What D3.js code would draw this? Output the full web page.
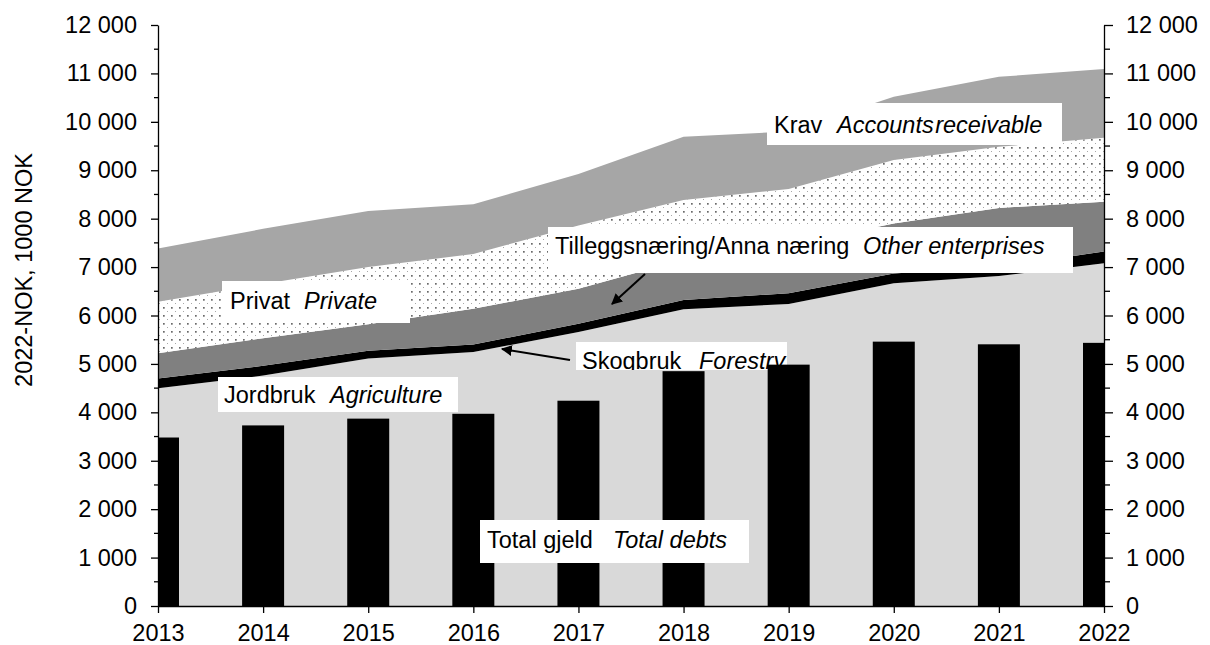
<!DOCTYPE html>
<html>
<head>
<meta charset="utf-8">
<script src="https://cdn.jsdelivr.net/npm/d3@7"></script>
<style>
    body { margin: 0; background: #fff; }
    svg { display: block; font-family: "Liberation Sans", Arial, sans-serif; }
</style>
</head>
<body>
<svg id="chart" width="1210" height="645"></svg>
<script>
// values (1000 NOK, 2022 money)
var years        = [2013, 2014, 2015, 2016, 2017, 2018, 2019, 2020, 2021, 2022];
var agriculture  = [4495, 4760, 5110, 5245, 5660, 6130, 6240, 6665, 6815, 7080];
var forestry     = [205, 200, 160, 155, 170, 190, 220, 205, 195, 240];
var otherEnt     = [520, 570, 550, 740, 720, 830, 990, 1030, 1210, 1030];
var privat       = [1065, 1120, 1180, 1130, 1310, 1235, 1165, 1310, 1265, 1320];
var receivable   = [1100, 1140, 1160, 1030, 1060, 1305, 1185, 1310, 1445, 1420];
var totalDebts   = [3480, 3730, 3870, 3970, 4240, 4850, 4985, 5460, 5405, 5435];
var yTicks       = [0, 1000, 2000, 3000, 4000, 5000, 6000, 7000, 8000, 9000, 10000, 11000, 12000];

var keys = ["agriculture", "forestry", "other", "private", "receivable"];
var rows = years.map(function(yr, i) {
    return { year: yr, agriculture: agriculture[i], forestry: forestry[i],
             other: otherEnt[i], "private": privat[i], receivable: receivable[i] };
});

var fills = { agriculture: "#d9d9d9", forestry: "#000", other: "#808080",
              "private": "url(#dots)", receivable: "#a6a6a6" };

// note: "top" is taken by window.top, so the plot edges get their own names
var plotL = 158, plotR = 1104, plotT = 25, plotB = 606;
var fontSize = "23.5px";

var svg = d3.select("#chart");
var x = d3.scaleLinear().domain([2013, 2022]).range([plotL, plotR]);
var y = d3.scaleLinear().domain([0, 12000]).range([plotB, plotT]);
var fmt = function(d) { return d3.format(",")(d).replace(/,/g, " "); };

var defs = svg.append("defs");
defs.append("clipPath").attr("id", "plot")
    .append("rect").attr("x", plotL).attr("y", 0).attr("width", plotR - plotL).attr("height", plotB);
defs.append("clipPath").attr("id", "skogclip")
    .append("rect").attr("x", 0).attr("y", 0).attr("width", 1210).attr("height", 370);
var pat = defs.append("pattern").attr("id", "dots").attr("patternUnits", "userSpaceOnUse")
    .attr("width", 8).attr("height", 8);
pat.append("rect").attr("width", 8).attr("height", 8).attr("fill", "#fff");
pat.append("rect").attr("x", 3).attr("y", 3).attr("width", 1.7).attr("height", 1.7).attr("fill", "#6a6a6a");
pat.append("rect").attr("x", 7).attr("y", 7).attr("width", 1.2).attr("height", 1.2).attr("fill", "#a8a8a8");
defs.append("marker").attr("id", "arrow").attr("viewBox", "0 0 10 10")
    .attr("refX", 9).attr("refY", 5).attr("markerWidth", 11).attr("markerHeight", 11)
    .attr("orient", "auto").attr("markerUnits", "userSpaceOnUse")
    .append("path").attr("d", "M0,0L10,5L0,10z").attr("fill", "#000");

// stacked areas
var series = d3.stack().keys(keys)(rows);
var area = d3.area()
    .x(function(d) { return x(d.data.year); })
    .y0(function(d) { return y(d[0]); })
    .y1(function(d) { return y(d[1]); });

svg.append("g").attr("clip-path", "url(#plot)")
    .selectAll("path").data(series).enter().append("path")
    .attr("d", area)
    .attr("fill", function(d) { return fills[d.key]; });

// white label box with a normal and an italic part
function label(g, a, b, bx0, by0, bx1, by1, tx, ix, base) {
    g.append("rect").attr("x", bx0).attr("y", by0).attr("width", bx1 - bx0).attr("height", by1 - by0)
        .attr("fill", "#fff");
    var t = g.append("text").attr("y", base).attr("font-size", fontSize).attr("fill", "#000");
    t.append("tspan").attr("x", tx).text(a);
    t.append("tspan").attr("x", ix).attr("font-style", "italic").text(b);
    return t;
}

// the forestry label sits under the bars and is cut at the bottom
var skog = svg.append("g").attr("clip-path", "url(#skogclip)");
label(skog, "Skogbruk", "Forestry", 576, 342, 787, 372, 582, 699, 369);

// total debts bars
var barW = 42;
svg.append("g").attr("clip-path", "url(#plot)")
    .selectAll("rect").data(totalDebts).enter().append("rect")
    .attr("x", function(d, i) { return x(years[i]) - barW / 2; })
    .attr("y", function(d) { return y(d); })
    .attr("width", barW)
    .attr("height", function(d) { return y(0) - y(d); })
    .attr("fill", "#000");

var lab = svg.append("g");
label(lab, "Krav", "Accounts receivable", 767, 103, 1062, 145, 774, 837, 133).select("tspan:last-child")
    .attr("word-spacing", "-5px");
label(lab, "Privat", "Private", 222, 281, 410, 323, 230, 304, 309);
label(lab, "Tilleggsnæring/Anna næring", "Other enterprises", 548, 227, 1073, 273, 555, 863, 254);
label(lab, "Jordbruk", "Agriculture", 218, 377, 458, 412, 224, 330, 403);
label(lab, "Total gjeld", "Total debts", 480, 520, 749, 563, 487, 613, 548);

// arrows
lab.append("line").attr("x1", 645).attr("y1", 274).attr("x2", 612).attr("y2", 304)
    .attr("stroke", "#000").attr("stroke-width", 2).attr("marker-end", "url(#arrow)");
lab.append("line").attr("x1", 570).attr("y1", 360).attr("x2", 502).attr("y2", 349)
    .attr("stroke", "#000").attr("stroke-width", 2).attr("marker-end", "url(#arrow)");

// axes
function styleAxis(g) {
    g.selectAll("path, line").attr("stroke", "#000").attr("stroke-width", 1.3);
    g.selectAll("text").attr("font-size", fontSize).attr("fill", "#000")
        .attr("font-family", "Liberation Sans, Arial, sans-serif");
}
var minor = d3.range(500, 12000, 1000);

var yl = svg.append("g").attr("transform", "translate(" + plotL + ",0)")
    .call(d3.axisLeft(y).tickValues(yTicks).tickFormat(fmt).tickSize(7).tickSizeOuter(0).tickPadding(14));
yl.selectAll(".minor").data(minor).enter().append("line").attr("class", "minor")
    .attr("x1", -4).attr("x2", 0).attr("y1", y).attr("y2", y);
styleAxis(yl);

var yr = svg.append("g").attr("transform", "translate(" + plotR + ",0)")
    .call(d3.axisRight(y).tickValues(yTicks).tickFormat(fmt).tickSize(9).tickSizeOuter(0).tickPadding(13));
yr.selectAll(".minor").data(minor).enter().append("line").attr("class", "minor")
    .attr("x1", 0).attr("x2", 6).attr("y1", y).attr("y2", y);
styleAxis(yr);

var xa = svg.append("g").attr("transform", "translate(0," + plotB + ")")
    .call(d3.axisBottom(x).tickValues(years).tickFormat(d3.format("d")).tickSize(7).tickSizeOuter(0).tickPadding(11));
styleAxis(xa);

svg.append("text")
    .attr("transform", "translate(32,270) rotate(-90)")
    .attr("text-anchor", "middle").attr("font-size", fontSize).attr("fill", "#000")
    .text("2022-NOK, 1000 NOK");
</script>
</body>
</html>
